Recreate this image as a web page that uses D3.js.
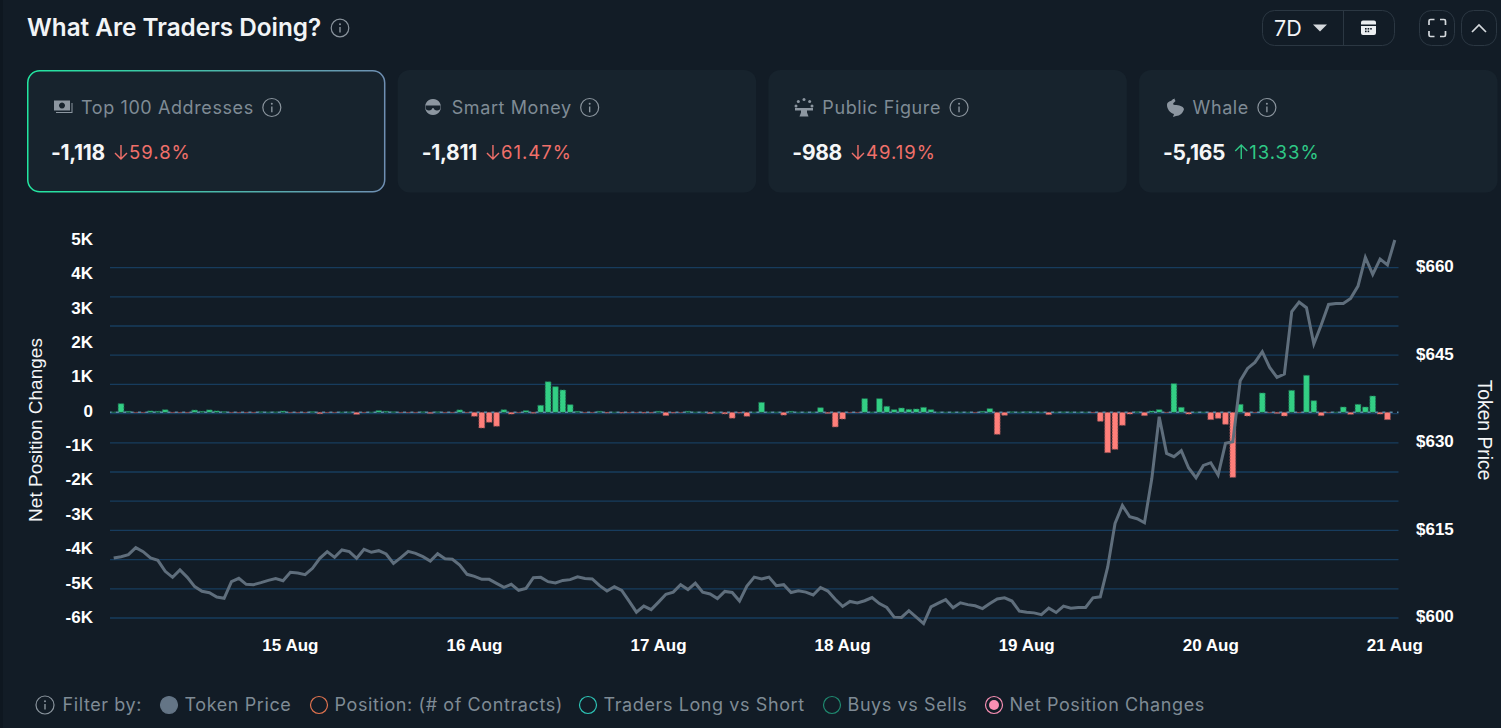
<!DOCTYPE html>
<html>
<head>
<meta charset="utf-8">
<script src="https://cdn.jsdelivr.net/npm/d3@7"></script>
<style>
html, body { margin: 0; padding: 0; background: #121c26; overflow: hidden; }
svg { display: block; }
text { font-family: Inter, sans-serif; }
.axis text { font-family: "Liberation Sans", Arial, sans-serif; font-weight: 700; fill: #fff; }
.axis .domain, .axis line { display: none; }
</style>
</head>
<body>
<svg id="chart" width="1501" height="728"></svg>
<script>
// card data
var cardNames = ["Top 100 Addresses", "Smart Money", "Public Figure", "Whale"];
var cardValues = ["-1,118", "-1,811", "-988", "-5,165"];
var cardChanges = ["59.8%", "61.47%", "49.19%", "13.33%"];
var cardDirs = ["down", "down", "down", "up"];

var legendNames = ["Token Price", "Position: (# of Contracts)", "Traders Long vs Short", "Buys vs Sells", "Net Position Changes"];

// axis ticks
var netTicks = [5000, 4000, 3000, 2000, 1000, 0, -1000, -2000, -3000, -4000, -5000, -6000];
var priceTicks = [600, 615, 630, 645, 660];
var gridPrices = [600, 605, 610, 615, 620, 625, 630, 635, 640, 645, 650, 655, 660];
var dateTickIndex = [24, 49, 74, 99, 124, 149, 174];
var dateTickLabels = ["15 Aug", "16 Aug", "17 Aug", "18 Aug", "19 Aug", "20 Aug", "21 Aug"];

// net position change per period
var netChange = [
  10, 252, 30, -6, -6, 40, 30, 75, -8, -8,
  -10, 65, 30, 70, 40, 20, -6, -8, -8, -8,
  15, 10, 12, 35, -8, -8, -6, 18, -40, -6,
  -6, 10, 12, -60, -6, 8, 50, 30, 15, -8,
  -8, -8, 15, -30, 15, -8, -8, 70, -8, -115,
  -456, -290, -405, 75, -50, -6, 50, -25, 205, 890,
  747, 650, 223, 30, -6, -6, 30, -20, 8, -20,
  -6, -6, -20, -15, 30, -95, -20, -5, 30, 10,
  10, -35, 10, -45, -170, -20, -115, 8, 290, 10,
  10, -80, 30, 8, 8, 10, 135, -30, -425, -195,
  -6, -6, 398, 10, 398, 175, 78, 126, 87, 97,
  145, 78, 10, 8, 8, 8, 8, -8, 30, 107,
  -640, -87, 15, 8, 15, 12, 8, -68, 8, 12,
  10, 8, 8, -6, -262, -1174, -1077, -378, -50, 15,
  -97, 39, 78, -6, 835, 146, -50, 8, 8, -213,
  -175, -350, -1892, 233, -107, -6, 563, -6, -30, -107,
  640, -6, 1077, 340, -97, -6, 8, 155, -58, 233,
  155, 475, -50, -213, 0
];

// token price per period
var tokenPrice = [
  610.28, 610.5, 610.85, 612.05, 611.36, 610.28, 609.88, 607.99, 606.96, 608.22,
  606.96, 605.37, 604.57, 604.34, 603.6, 603.37, 606.22, 606.79, 605.77, 605.71,
  606.05, 606.45, 606.74, 606.39, 607.82, 607.71, 607.42, 608.51, 610.22, 611.36,
  610.39, 611.65, 611.36, 610.22, 611.76, 611.25, 611.53, 610.96, 609.36, 610.33,
  611.42, 611.07, 610.5, 609.76, 611.02, 610.16, 610.05, 609.08, 607.48, 607.14,
  606.62, 606.62, 605.94, 605.25, 605.77, 604.74, 605.08, 606.91, 606.96, 606.22,
  606.0, 606.44, 606.57, 607.06, 606.75, 606.69, 605.53, 604.61, 605.34, 604.73,
  602.9, 601.0, 602.04, 601.43, 602.72, 604.06, 604.43, 605.71, 604.86, 605.96,
  604.43, 604.12, 603.33, 604.55, 604.37, 602.9, 605.47, 607.0, 606.69, 607.0,
  605.53, 605.71, 604.37, 604.67, 604.43, 603.94, 605.22, 604.61, 603.2, 601.98,
  602.84, 602.59, 602.96, 603.51, 602.47, 601.8, 600.15, 600.09, 601.25, 600.15,
  599.05, 601.92, 602.53, 603.14, 601.74, 602.59, 602.29, 602.1, 601.62, 602.47,
  603.27, 603.45, 602.9, 601.19, 601.0, 600.88, 600.58, 601.68, 600.94, 602.04,
  601.68, 601.8, 601.8, 603.45, 603.63, 608.71, 616.2, 619.26, 617.34, 617.0,
  616.31, 623.91, 634.47, 628.19, 627.62, 628.64, 625.68, 624.02, 626.13, 626.59,
  624.48, 629.9, 630.18, 640.63, 642.74, 643.77, 645.6, 642.91, 641.2, 641.77,
  652.45, 654.1, 653.13, 646.91, 650.16, 653.7, 653.87, 653.87, 654.73, 656.84,
  661.75, 658.84, 661.46, 660.44, 664.72
];

var bg = "#121c26", cardBg = "#17232d", grey = "#7f8b95", red = "#f0706a", green = "#2fc986";

var svg = d3.select("#chart");
var defs = svg.append("defs");

var grad = defs.append("linearGradient").attr("id", "cardBorder");
grad.append("stop").attr("offset", "0%").attr("stop-color", "#22e6a0");
grad.append("stop").attr("offset", "100%").attr("stop-color", "#6f8fb3");

svg.append("rect").attr("width", 3).attr("height", 728).attr("fill", "#0e1720");

function infoIcon(x, y, r, color) {
  var g = svg.append("g").attr("transform", "translate(" + x + "," + y + ")");
  g.append("circle").attr("r", r).attr("fill", "none").attr("stroke", color).attr("stroke-width", 1.2);
  g.append("circle").attr("cy", -r * 0.42).attr("r", 1).attr("fill", color);
  g.append("line").attr("y1", -r * 0.12).attr("y2", r * 0.5).attr("stroke", color).attr("stroke-width", 1.4);
}

// header
svg.append("text").attr("x", 27).attr("y", 36)
  .attr("font-size", 24.3).attr("font-weight", 600).attr("fill", "#f2f4f6")
  .text("What Are Traders Doing?");
infoIcon(340, 28, 8.8, "#8a949d");

function button(x, w) {
  svg.append("rect").attr("x", x + .5).attr("y", 10.5).attr("width", w).attr("height", 35).attr("rx", 12)
    .attr("fill", "none").attr("stroke", "#2b3742");
}
button(1262, 132);
svg.append("line").attr("x1", 1343.5).attr("x2", 1343.5).attr("y1", 11).attr("y2", 45).attr("stroke", "#2b3742");
svg.append("text").attr("x", 1274).attr("y", 35.5).attr("font-size", 21.5).attr("fill", "#f2f4f6").text("7D");
svg.append("path").attr("d", "M1313 24.5h14l-7 7z").attr("fill", "#d5d9dd");
svg.append("path").attr("d", "M1363 20.500h11a2 2 0 0 1 2 2v2h-15v-2a2 2 0 0 1 2-2zM1361 26h15v7a2 2 0 0 1-2 2h-11a2 2 0 0 1-2-2z").attr("fill", "#eceff1");
svg.selectAll("rect.calDot").data(d3.range(5)).enter().append("rect").attr("class", "calDot")
  .attr("x", function(d) { return 1365 + (d % 3) * 2.6; })
  .attr("y", function(d) { return 28 + Math.floor(d / 3) * 2.6; })
  .attr("width", 1.6).attr("height", 1.6).attr("fill", bg);
button(1419, 35);
svg.append("path").attr("d", "M1429 25v-4a1.5 1.5 0 0 1 1.5-1.5h4M1440 19.5h4a1.5 1.5 0 0 1 1.5 1.5v4M1445.5 31v4a1.5 1.5 0 0 1-1.5 1.5h-4M1434.500 36.5h-4a1.5 1.5 0 0 1-1.500-1.5v-4")
  .attr("fill", "none").attr("stroke", "#d5d9dd").attr("stroke-width", 1.7);
button(1461, 35);
svg.append("path").attr("d", "M1472 32l7-7 7 7").attr("fill", "none").attr("stroke", "#d5d9dd").attr("stroke-width", 1.7);

// cards
var cardX = d3.scaleBand().domain(d3.range(cardNames.length)).range([27, 1497.5]).paddingInner(0.033).paddingOuter(0);
var cards = svg.selectAll("g.card").data(cardNames).enter().append("g").attr("class", "card");
cards.append("rect")
  .attr("x", function(d, i) { return cardX(i) + (i === 0 ? .75 : 0); })
  .attr("y", function(d, i) { return i === 0 ? 70.75 : 70; })
  .attr("width", function(d, i) { return cardX.bandwidth() - (i === 0 ? 1.5 : 0); })
  .attr("height", function(d, i) { return i === 0 ? 121 : 122.5; })
  .attr("rx", 12)
  .attr("fill", cardBg)
  .attr("stroke", function(d, i) { return i === 0 ? "url(#cardBorder)" : "none"; })
  .attr("stroke-width", 1.5);

// card icons
var iconFill = "#8c96a0";
svg.append("path").attr("fill", iconFill).attr("fill-rule", "evenodd")
  .attr("d", "M54 100.500h16v10h-16zM62 102.500a3 3 0 1 0 .01 0zM56 112h15.500v-9h1v10h-16.500z");
svg.append("path").attr("fill", iconFill).attr("fill-rule", "evenodd")
  .attr("d", "M433 99a8 8 0 1 1-.01 0zM425.500 105.500v2c0 2 1.500 3 3.500 3s3-1 3.500-2.500h1c.5 1.500 1.500 2.500 3.500 2.500s3.500-1 3.500-3v-2z");
svg.append("path").attr("fill", iconFill)
  .attr("d", "M795 108h18v2.500h-6v2l1.500 4h-9l1.500-4v-2h-6z");
svg.selectAll("circle.pub").data(d3.range(5)).enter().append("circle").attr("class", "pub")
  .attr("cx", function(d) { return 804 + 8 * Math.cos(Math.PI * (1 - d / 4)); })
  .attr("cy", function(d) { return 106 - 6.5 * Math.sin(Math.PI * d / 4); })
  .attr("r", 1.5).attr("fill", iconFill);
svg.append("path").attr("fill", iconFill)
  .attr("d", "M1174 98l1.500 3-2 2c-1 1 0 2 1.500 2 4 0 8 1 9 4-1 4-4 7-8 7l-3 1 1-3c-4-1-7-5-7-9 0-3 3-4 4-4 1-1 2-2 3.500-3z");

cards.append("text")
  .attr("x", function(d, i) { return cardX(i) + (i === 3 ? 53.5 : 54); })
  .attr("y", 114)
  .attr("font-size", 18).attr("letter-spacing", 0.6).attr("fill", grey)
  .text(function(d) { return d; });
cards.each(function(d, i) {
  var g = d3.select(this);
  var label = g.select("text").node();
  var lx = label.getBBox().x + label.getBBox().width + 18;
  var cx = cardX(i);
  var c = g.append("g").attr("transform", "translate(" + lx + ",107.5)");
  c.append("circle").attr("r", 9).attr("fill", "none").attr("stroke", "#8a949d").attr("stroke-width", 1.2);
  c.append("circle").attr("cy", -3.8).attr("r", 1).attr("fill", "#8a949d");
  c.append("line").attr("y1", -1).attr("y2", 4.8).attr("stroke", "#8a949d").attr("stroke-width", 1.4);

  var val = g.append("text").attr("x", cx + 24).attr("y", 160)
    .attr("font-size", 21).attr("font-weight", 700).attr("letter-spacing", -0.3).attr("fill", "#f5f6f7")
    .text(cardValues[i]);
  var vEnd = val.node().getBBox().x + val.node().getBBox().width;
  var col = cardDirs[i] === "down" ? red : green;
  var ax = vEnd + 16;
  var arrow = cardDirs[i] === "down"
    ? "M" + ax + " 145v14M" + (ax - 6) + " 153l6 6 6-6"
    : "M" + ax + " 159v-14M" + (ax - 6) + " 151l6-6 6 6";
  g.append("path").attr("d", arrow).attr("fill", "none").attr("stroke", col).attr("stroke-width", 1.4);
  g.append("text").attr("x", ax + 8).attr("y", 159)
    .attr("font-size", 18.5).attr("letter-spacing", 1).attr("fill", col)
    .text(cardChanges[i]);
});

// scales
var x = d3.scaleBand().domain(d3.range(tokenPrice.length)).range([110, 1398.5]);
var yNet = d3.scaleLinear().domain([-6000, 5000]).range([618.5, 240.5]);
var yPrice = d3.scaleLinear().domain([600, 660]).range([618, 267.6]);
var cx = function(i) { return x(i) + x.bandwidth() / 2; };

// grid
svg.append("g").selectAll("line").data(gridPrices).enter().append("line")
  .attr("x1", 110).attr("x2", 1398.5)
  .attr("y1", function(d) { return yPrice(d); })
  .attr("y2", function(d) { return yPrice(d); })
  .attr("stroke", "#173c5e").attr("stroke-width", 1.3);

// bars
svg.append("g").selectAll("rect").data(netChange).enter().append("rect")
  .attr("x", function(d, i) { return cx(i) - 2.9; })
  .attr("width", 5.8)
  .attr("y", function(d) { return d >= 0 ? yNet(d) : yNet(0); })
  .attr("height", function(d) { return Math.abs(yNet(d) - yNet(0)); })
  .attr("fill", function(d) { return d >= 0 ? "#33cf84" : "#ff7f7a"; })
  .attr("stroke", function(d) { return d >= 0 ? "#1f6a50" : "#8a4d52"; })
  .attr("stroke-width", 0.8)
  .attr("stroke-dasharray", "2 1");

// zero line shows in the gaps between bars
svg.append("line").attr("x1", 110).attr("x2", 1398.5)
  .attr("y1", yNet(0)).attr("y2", yNet(0))
  .attr("stroke", "#5b8aa6").attr("stroke-width", 1.6)
  .attr("stroke-dasharray", "3 " + (x.step() - 3))
  .attr("stroke-dashoffset", 1.5);

// price line
var line = d3.line().x(function(d, i) { return cx(i); }).y(function(d) { return yPrice(d); });
svg.append("path").datum(tokenPrice).attr("d", line)
  .attr("fill", "none").attr("stroke", "#5f6e7c").attr("stroke-width", 3).attr("stroke-linejoin", "miter");

// axes
var leftAxis = d3.axisLeft(yNet).tickValues(netTicks).tickSize(0).tickPadding(0)
  .tickFormat(function(d) { return d === 0 ? "0" : (d / 1000) + "K"; });
svg.append("g").attr("class", "axis").attr("transform", "translate(93,-1.500)").call(leftAxis)
  .selectAll("text").attr("font-size", 17);

var rightAxis = d3.axisRight(yPrice).tickValues(priceTicks).tickSize(0).tickPadding(0)
  .tickFormat(function(d) { return "$" + d; });
svg.append("g").attr("class", "axis").attr("transform", "translate(1416,-1.500)").call(rightAxis)
  .selectAll("text").attr("font-size", 17);

var bottomAxis = d3.axisBottom(x).tickValues(dateTickIndex).tickSize(0).tickPadding(0)
  .tickFormat(function(d) { return dateTickLabels[dateTickIndex.indexOf(d)]; });
svg.append("g").attr("class", "axis").attr("transform", "translate(0,638.500)").call(bottomAxis)
  .selectAll("text").attr("font-size", 17);

svg.append("text").attr("transform", "translate(41.500,430) rotate(-90)").attr("text-anchor", "middle")
  .style("font-family", "'Liberation Sans', Arial, sans-serif").attr("font-size", 19).attr("fill", "#f5f6f7")
  .text("Net Position Changes");
svg.append("text").attr("transform", "translate(1478,430) rotate(90)").attr("text-anchor", "middle")
  .style("font-family", "'Liberation Sans', Arial, sans-serif").attr("font-size", 19.3).attr("fill", "#f5f6f7")
  .text("Token Price");

// legend
infoIcon(45, 705, 9, "#8a949d");
svg.append("text").attr("x", 62.5).attr("y", 711).attr("font-size", 18).attr("letter-spacing", 0.6).attr("fill", grey).text("Filter by:");
var legendX = [169, 319, 588, 832, 994];
var legendCol = ["#647586", "#e0734f", "#2ec4b6", "#1f8a70", "#f78fb3"];
var leg = svg.selectAll("g.leg").data(legendNames).enter().append("g").attr("class", "leg")
  .attr("transform", function(d, i) { return "translate(" + legendX[i] + ",705)"; });
leg.append("circle").attr("r", 8.5)
  .attr("fill", function(d, i) { return i === 0 ? legendCol[0] : "none"; })
  .attr("stroke", function(d, i) { return legendCol[i]; }).attr("stroke-width", 1.2);
leg.filter(function(d, i) { return i === 4; }).append("circle").attr("r", 5).attr("fill", legendCol[4]);
leg.append("text").attr("x", 15.5).attr("y", 6).attr("font-size", 18).attr("letter-spacing", 0.6).attr("fill", grey)
  .text(function(d) { return d; });
</script>
</body>
</html>
